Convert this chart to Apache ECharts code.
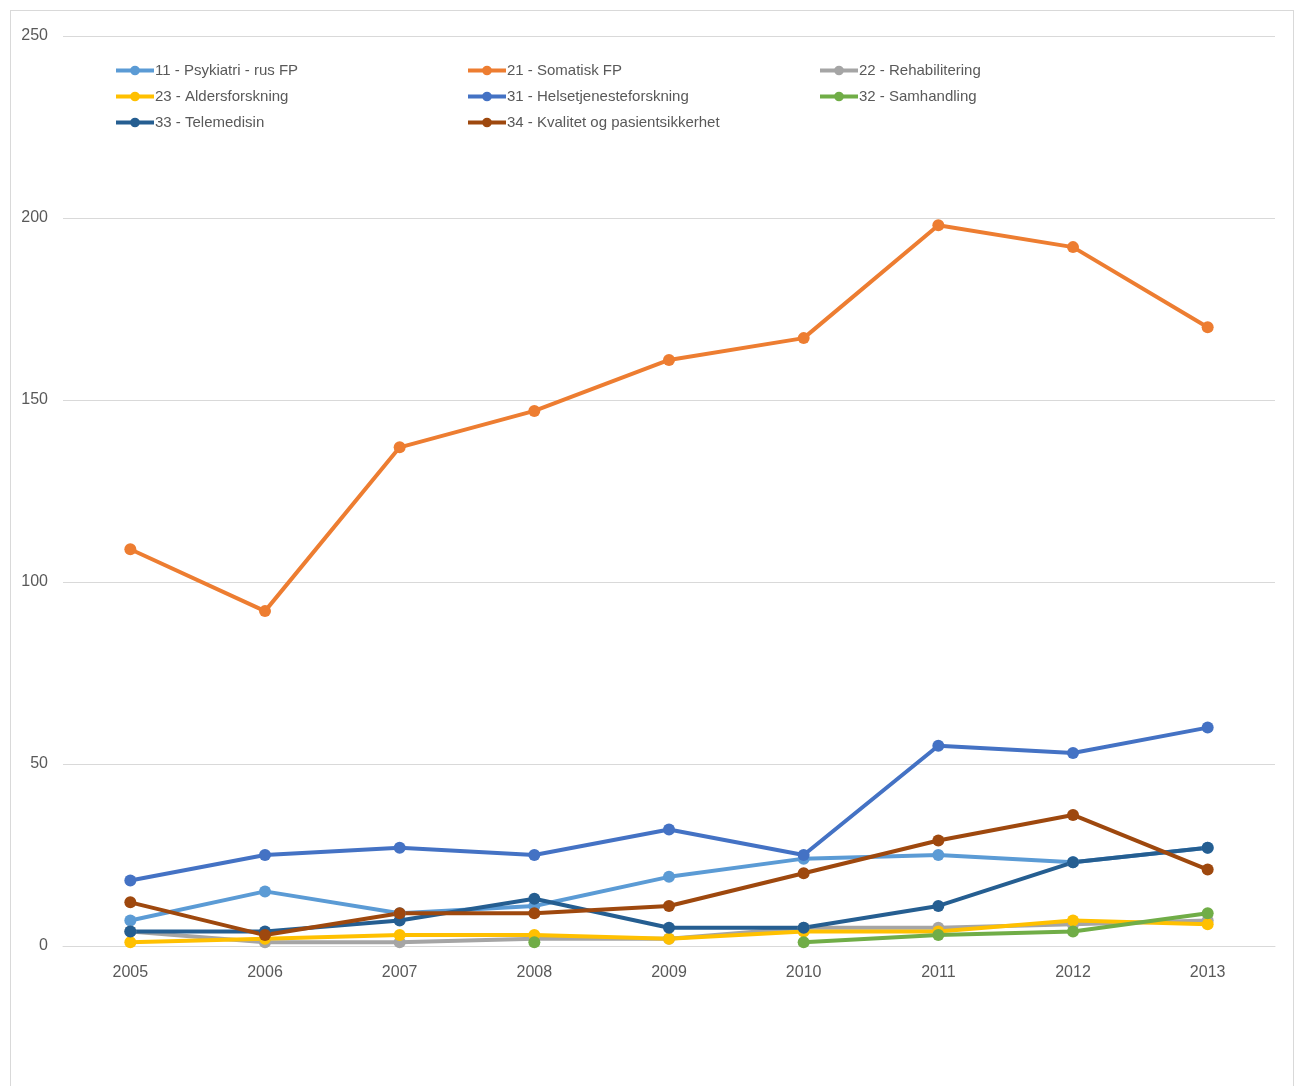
<!DOCTYPE html>
<html>
<head>
<meta charset="utf-8">
<script src="https://cdn.jsdelivr.net/npm/echarts@6/dist/echarts.min.js"></script>
<style>
html,body{margin:0;padding:0;background:#fff;}
#frame{position:absolute;left:10px;top:10px;width:1284px;height:1090px;border:1px solid #d9d9d9;box-sizing:border-box;}
#chart{position:absolute;left:0;top:0;width:1301px;height:1086px;}
</style>
</head>
<body>
<div id="frame"></div>
<div id="chart"></div>
<script>
const years = ['2005','2006','2007','2008','2009','2010','2011','2012','2013'];
const yTicks = [0, 50, 100, 150, 200, 250];
const names = ['11 - Psykiatri - rus FP','21 - Somatisk FP','22 - Rehabilitering','23 - Aldersforskning','31 - Helsetjenesteforskning','32 - Samhandling','33 - Telemedisin','34 - Kvalitet og pasientsikkerhet'];
const psykiatri = [7, 15, 9, 11, 19, 24, 25, 23, 27];
const somatisk = [109, 92, 137, 147, 161, 167, 198, 192, 170];
const rehab = [4, 1, 1, 2, 2, 5, 5, 6, 7];
const alders = [1, 2, 3, 3, 2, 4, 4, 7, 6];
const helse = [18, 25, 27, 25, 32, 25, 55, 53, 60];
const samhandling = [null, null, null, 1, null, 1, 3, 4, 9];
const telemedisin = [4, 4, 7, 13, 5, 5, 11, 23, 27];
const kvalitet = [12, 3, 9, 9, 11, 20, 29, 36, 21];
const colors = ['#5B9BD5','#ED7D31','#A5A5A5','#FFC000','#4472C4','#70AD47','#255E91','#9E480E'];
const values = [psykiatri, somatisk, rehab, alders, helse, samhandling, telemedisin, kvalitet];

const font = '"Liberation Sans", sans-serif';
const chart = echarts.init(document.getElementById('chart'));
function legend(left, data){
  return {
    left: left, top: 58, orient: 'vertical', itemGap: 11, itemWidth: 38, itemHeight: 12,
    data: data, selectedMode: false,
    lineStyle: {width: 4},
    textStyle: {color: '#595959', fontSize: 15, fontFamily: font, padding: [0,0,0,-4]}
  };
}
chart.setOption({
  animation: false,
  color: colors,
  legend: [
    legend(109, [names[0], names[3], names[6]]),
    legend(461, [names[1], names[4], names[7]]),
    legend(813, [names[2], names[5]])
  ],
  grid: {left: 63, right: 26, top: 36, bottom: 140, containLabel: false},
  xAxis: {
    type: 'category', data: years, boundaryGap: true,
    axisLine: {lineStyle: {color: '#d9d9d9', width: 1}},
    axisTick: {show: false},
    axisLabel: {color: '#595959', fontSize: 16, fontFamily: font, margin: 19}
  },
  yAxis: {
    type: 'value', min: yTicks[0], max: yTicks[yTicks.length-1], interval: 50,
    axisLine: {show: false}, axisTick: {show: false},
    axisLabel: {color: '#595959', fontSize: 16, fontFamily: font, margin: 15},
    splitLine: {lineStyle: {color: '#d9d9d9', width: 1}}
  },
  series: names.map((n, i) => ({
    name: n, type: 'line', data: values[i],
    symbol: 'circle', symbolSize: 12,
    lineStyle: {width: 4, color: colors[i]},
    itemStyle: {color: colors[i]},
    connectNulls: false
  }))
});
</script>
</body>
</html>
